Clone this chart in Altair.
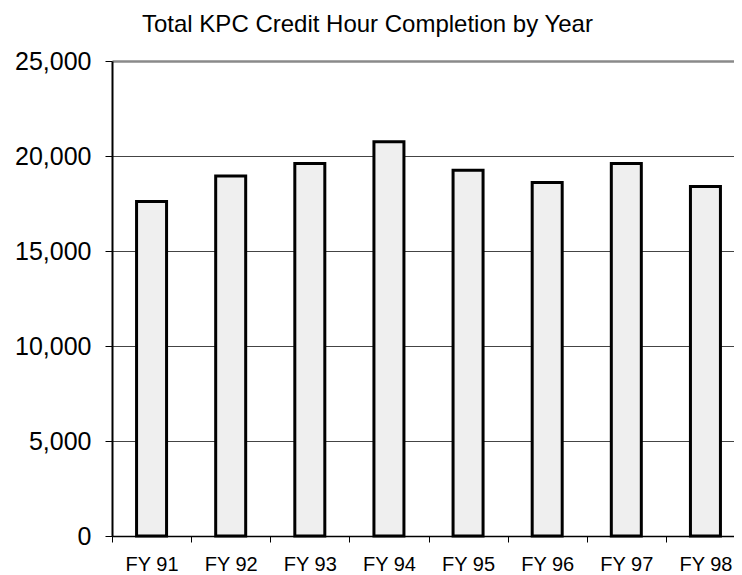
import altair as alt
import pandas as pd

years = ["FY 91", "FY 92", "FY 93", "FY 94", "FY 95", "FY 96", "FY 97", "FY 98"]
hours = [17600, 18950, 19600, 20750, 19250, 18600, 19600, 18400]
y_ticks = [0, 5000, 10000, 15000, 20000, 25000]
title_text = ["Total KPC Credit Hour Completion by Year"]

df = pd.DataFrame({"year": years, "hours": hours})
tdf = pd.DataFrame({"t": title_text})

FONT = "Liberation Sans"

bars = alt.Chart(df).mark_bar(
    size=30, fill="#efefef", stroke="black", strokeWidth=3
).encode(
    x=alt.X("year:N", sort=years, title=None,
            scale=alt.Scale(range=[0, 633], paddingInner=0, paddingOuter=0),
            axis=alt.Axis(labelAngle=0, labelFont=FONT, labelFontSize=20,
                          labelColor="black", tickBand="extent", tickSize=6,
                          tickColor="black", tickWidth=1, domainColor="black",
                          domainWidth=1.5, labelPadding=12, grid=False)),
    y=alt.Y("hours:Q", title=None,
            scale=alt.Scale(domain=[0, 25000], nice=False),
            axis=alt.Axis(values=y_ticks, format=",d", labelFont=FONT,
                          labelFontSize=25, labelColor="black", tickSize=7,
                          tickColor="black", tickWidth=1, domainColor="black",
                          domainWidth=2, labelPadding=14, grid=True,
                          gridColor=alt.condition("datum.value == 25000", alt.value("#8a8a8a"), alt.value("#444444")),
                          gridWidth=alt.condition("datum.value == 25000", alt.value(2.5), alt.value(1)),
                          gridOpacity=1)),
)

title = alt.Chart(tdf).mark_text(
    align="left", baseline="alphabetic", font=FONT, fontSize=24, color="black"
).encode(
    text="t:N", x=alt.value(30), y=alt.value(-29)
)

chart = alt.layer(bars, title).properties(
    width=622,
    height=475,
    autosize=alt.AutoSizeParams(type="none"),
    padding={"left": 104, "top": 53, "right": 0, "bottom": 44},
).configure_view(stroke=None)

chart.save("out.html", embed_options={"renderer": "svg", "actions": False})
